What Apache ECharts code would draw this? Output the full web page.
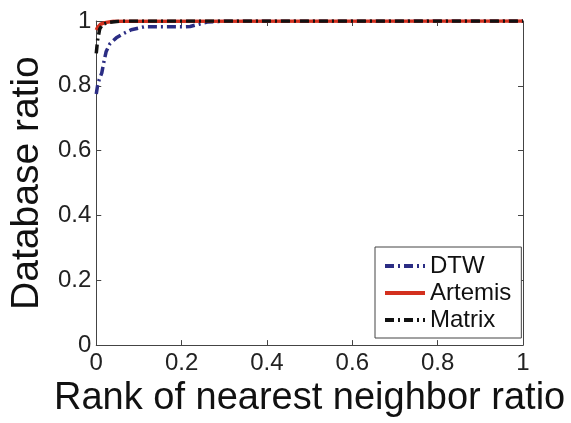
<!DOCTYPE html>
<html>
<head>
<meta charset="utf-8">
<script src="https://cdn.jsdelivr.net/npm/echarts@6/dist/echarts.min.js"></script>
<style>
html,body{margin:0;padding:0;background:#fff;}
#chart{width:571px;height:423px;}
</style>
</head>
<body>
<div id="chart"></div>
<script>
const xTicks = [0, 0.2, 0.4, 0.6, 0.8, 1];
const yTicks = [0, 0.2, 0.4, 0.6, 0.8, 1];

const dtwX = [0, 0.003, 0.007, 0.013, 0.018, 0.023, 0.032, 0.047, 0.065, 0.082, 0.112, 0.15, 0.2, 0.22, 0.24, 0.26, 0.3, 1];
const dtwY = [0.775, 0.8, 0.82, 0.84, 0.875, 0.905, 0.93, 0.948, 0.962, 0.973, 0.982, 0.982, 0.982, 0.983, 0.99, 0.997, 0.999, 1];

const artX = [0, 0.003, 0.01, 0.02, 0.04, 1];
const artY = [0.972, 0.98, 0.99, 0.995, 0.999, 1];

const matX = [0, 0.003, 0.008, 0.015, 0.03, 0.06, 1];
const matY = [0.9, 0.94, 0.975, 0.99, 0.996, 1, 1];

const zip = (xs, ys) => xs.map((x, i) => [x, ys[i]]);

const font = '"Liberation Sans", Arial, sans-serif';
const axisColor = '#444';

const chart = echarts.init(document.getElementById('chart'), null, {renderer: 'canvas'});
const baseAxis = {
  type: 'value', min: 0, max: 1, interval: 0.2,
  axisLine: {show: true, onZero: false, lineStyle: {color: axisColor, width: 1}},
  axisTick: {show: true, inside: true, length: 5, lineStyle: {color: axisColor}},
  splitLine: {show: false}
};
chart.setOption({
  animation: false,
  backgroundColor: '#fff',
  grid: {left: 95, right: 48, top: 21, bottom: 71},
  xAxis: [
    Object.assign({}, baseAxis, {
      position: 'bottom',
      name: 'Rank of nearest neighbor ratio',
      nameLocation: 'middle', nameGap: 31,
      nameTextStyle: {fontFamily: font, fontSize: 38, color: '#111'},
      axisLabel: {fontFamily: font, fontSize: 24, color: '#222', margin: 6,
        formatter: v => { const t = xTicks.find(a => Math.abs(a - v) < 1e-9); return t === undefined ? '' : String(t); }}
    }),
    Object.assign({}, baseAxis, {position: 'top', axisLabel: {show: false}})
  ],
  yAxis: [
    Object.assign({}, baseAxis, {
      position: 'left',
      name: 'Database ratio',
      nameLocation: 'middle', nameGap: 47,
      nameTextStyle: {fontFamily: font, fontSize: 39, color: '#111'},
      axisLabel: {fontFamily: font, fontSize: 24, color: '#222', margin: 5,
        formatter: v => { const t = yTicks.find(a => Math.abs(a - v) < 1e-9); return t === undefined ? '' : String(t); }}
    }),
    Object.assign({}, baseAxis, {position: 'right', axisLabel: {show: false}})
  ],
  legend: {
    orient: 'vertical', left: 375, top: 247,
    backgroundColor: '#fff', borderColor: '#444', borderWidth: 1,
    padding: [7, 10, 6, 8], itemGap: 3, itemWidth: 40, itemHeight: 12, itemTextGap: 4,
    itemStyle: {opacity: 0},
    lineStyle: {width: 4},
    textStyle: {fontFamily: font, fontSize: 24, color: '#111'},
    data: ['DTW', 'Artemis', 'Matrix']
  },
  series: [
    {name: 'DTW', type: 'line', data: zip(dtwX, dtwY), showSymbol: false, symbol: 'none',
      lineStyle: {color: '#2b2d84', width: 3.5, type: [9, 4, 2, 4]}, itemStyle: {color: '#2b2d84'}},
    {name: 'Artemis', type: 'line', data: zip(artX, artY), showSymbol: false, symbol: 'none',
      lineStyle: {color: '#d3301e', width: 3.5}, itemStyle: {color: '#d3301e'}},
    {name: 'Matrix', type: 'line', data: zip(matX, matY), showSymbol: false, symbol: 'none',
      lineStyle: {color: '#111', width: 3.5, type: [9, 4, 2, 4]}, itemStyle: {color: '#111'}}
  ]
});
</script>
</body>
</html>
